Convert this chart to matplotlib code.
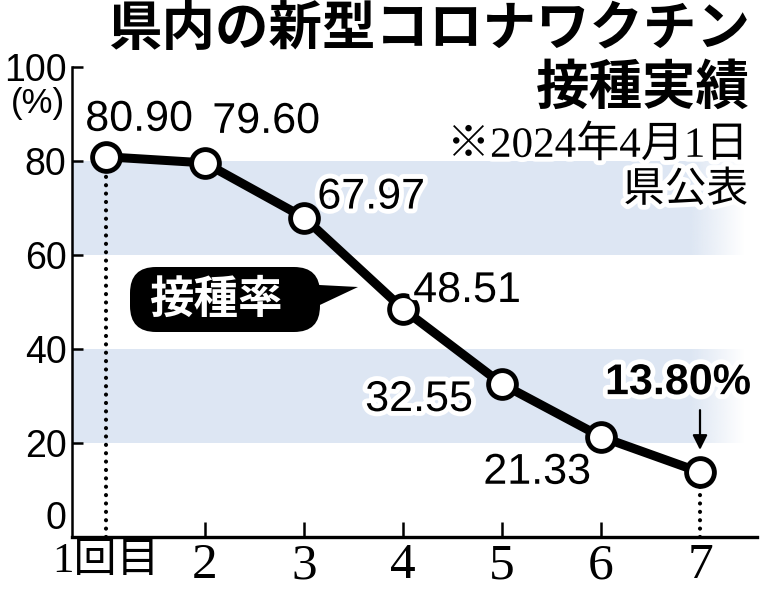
import numpy as np
import matplotlib
matplotlib.use("Agg")
import matplotlib.pyplot as plt
import matplotlib.patheffects as pe
from matplotlib.patches import FancyBboxPatch, Polygon, Rectangle
from matplotlib.transforms import IdentityTransform

# data
doses = [1, 2, 3, 4, 5, 6, 7]
rates = [80.90, 79.60, 67.97, 48.51, 32.55, 21.33, 13.80]
rate_labels = ["80.90", "79.60", "67.97", "48.51", "32.55", "21.33", "13.80%"]
x_ticklabels = ["1回目", "2", "3", "4", "5", "6", "7"]
y_ticks = [0, 20, 40, 60, 80, 100]

# label offsets in pixels (dx, dy) from each point
label_offsets = [(33, 37), (61, 41), (67, 20), (64, 18), (-83, -16), (-64, -36), (-22, 89)]

NUM_FONT = "Liberation Sans"
SERIF = "Liberation Serif"
JP = "Noto Sans CJK JP"
BAND = "#dde6f3"

W, H = 763, 590
fig = plt.figure(figsize=(W / 100, H / 100), dpi=100)
ax = fig.add_axes([72 / W, (H - 537) / H, (757 - 72) / W, (537 - 67) / H])

x_lo, x_hi = 1 - 34 / 99, 7 + 57 / 99
fade_start, fade_end = 6.9, 7.45

# shaded bands, fading out at the right
for y0 in (20, 60):
    ax.add_patch(Rectangle((x_lo, y0), fade_start - x_lo, 20, fc=BAND, ec="none", zorder=0))
    grad = np.zeros((1, 64, 4))
    grad[..., :3] = matplotlib.colors.to_rgb(BAND)
    grad[..., 3] = np.linspace(1, 0, 64)
    ax.imshow(grad, extent=[fade_start, fade_end, y0, y0 + 20], aspect="auto", zorder=0)

# dotted drop lines at first and last dose
for i in (0, -1):
    ax.plot([doses[i], doses[i]], [0, rates[i]], color="black", lw=3.0,
            linestyle=(0, (0.01, 2.0)), dash_capstyle="round", zorder=1)

ax.plot(doses, rates, color="black", lw=6.5, zorder=2, solid_capstyle="round")
ax.plot(doses, rates, "o", ms=20, mfc="white", mec="black", mew=3.5, zorder=3)

halo = [pe.withStroke(linewidth=7, foreground="white")]
for x, y, lab, (dx, dy) in zip(doses, rates, rate_labels, label_offsets):
    bold = lab.endswith("%")
    ax.annotate(lab, (x, y), xytext=(dx, dy), textcoords="offset pixels",
                ha="center", va="center", fontsize=31,
                fontweight="bold" if bold else "normal",
                family=NUM_FONT, path_effects=halo, zorder=5)

# arrow onto the last point
ax.annotate("", xy=(doses[-1], rates[-1]), xytext=(0, 62), textcoords="offset pixels",
            arrowprops=dict(arrowstyle="-|>", color="black", lw=1.6, mutation_scale=22,
                            shrinkA=0, shrinkB=16), zorder=5)

ax.set_xlim(x_lo, x_hi)
ax.set_ylim(0, 100)

for s in ("top", "right"):
    ax.spines[s].set_visible(False)
ax.spines["left"].set_linewidth(1.8)
ax.spines["bottom"].set_linewidth(2.4)

ax.set_yticks(y_ticks)
ax.set_yticklabels([str(v) for v in y_ticks], family=NUM_FONT, fontsize=27)
ax.tick_params(axis="y", direction="in", length=8, width=1.8, pad=4)
ax.yaxis.get_major_ticks()[0].tick1line.set_visible(False)
ax.get_yticklabels()[0].set_verticalalignment("bottom")

ax.set_xticks(doses)
ax.set_xticklabels(x_ticklabels, family=[SERIF, JP], fontsize=37)
ax.get_xticklabels()[0].set_fontsize(31)
ax.tick_params(axis="x", direction="in", length=11, width=1.8, pad=4)
for i in (0, -1):
    ax.xaxis.get_major_ticks()[i].tick1line.set_visible(False)

fig.text(38 / W, 1 - 104 / H, "(%)", ha="center", va="center", fontsize=25, family=NUM_FONT)

# title and source note
fig.text(750 / W, 1 - 30 / H, "県内の新型コロナワクチン", ha="right", va="center",
         fontsize=38.5, fontweight="bold", family=JP)
fig.text(750 / W, 1 - 88 / H, "接種実績", ha="right", va="center",
         fontsize=38.5, fontweight="bold", family=JP)
fig.text(748 / W, 1 - 146 / H, "※2024年4月1日", ha="right", va="center",
         fontsize=31, family=[SERIF, JP], path_effects=halo)
fig.text(748 / W, 1 - 190 / H, "県公表", ha="right", va="center",
         fontsize=30, family=JP, path_effects=halo)

# callout "接種率"
box = FancyBboxPatch((130 + 20, H - 332 + 20), 190 - 40, 65 - 40,
                     boxstyle="round,pad=20,rounding_size=26",
                     fc="black", ec="none", transform=IdentityTransform())
fig.add_artist(box)
fig.add_artist(Polygon([(300, H - 284), (305, H - 312), (358, H - 287)], closed=True,
                       fc="black", ec="none", transform=IdentityTransform()))
fig.text(216 / W, 1 - 300 / H, "接種率", ha="center", va="center", fontsize=32,
         fontweight="bold", color="white", family=JP)

fig.savefig("out.png", dpi=100)
